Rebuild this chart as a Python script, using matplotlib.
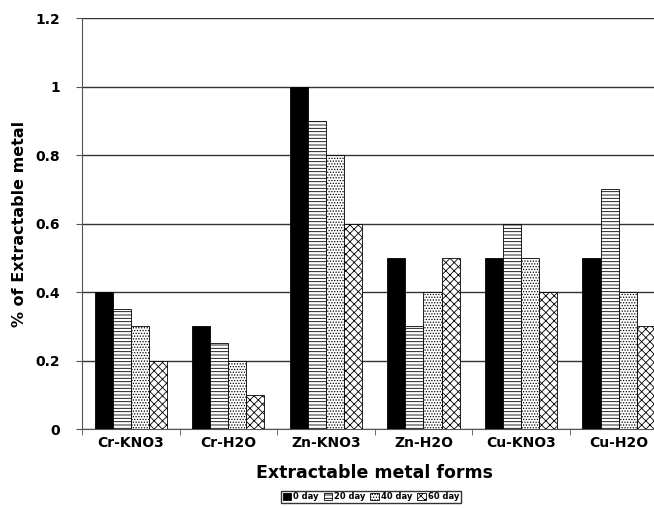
import numpy as np
import matplotlib
matplotlib.use("Agg")
import matplotlib.pyplot as plt

categories = ["Cr-KNO3", "Cr-H2O", "Zn-KNO3", "Zn-H2O", "Cu-KNO3", "Cu-H2O"]
series_names = ["0 day", "20 day", "40 day", "60 day"]
day0 = [0.4, 0.3, 1.0, 0.5, 0.5, 0.5]
day20 = [0.35, 0.25, 0.9, 0.3, 0.6, 0.7]
day40 = [0.3, 0.2, 0.8, 0.4, 0.5, 0.4]
day60 = [0.2, 0.1, 0.6, 0.5, 0.4, 0.3]
yticks = [0, 0.2, 0.4, 0.6, 0.8, 1, 1.2]

plt.rcParams["hatch.linewidth"] = 0.6

fig = plt.figure(figsize=(6.54, 5.08), dpi=100)
ax = fig.add_axes([0.1254, 0.1555, 0.895, 0.809])

x = np.arange(len(categories))
w = 0.185
styles = [
    dict(facecolor="black", hatch=None),
    dict(facecolor="white", hatch="-----"),
    dict(facecolor="white", hatch="......"),
    dict(facecolor="white", hatch="xxxx"),
]
for k, (vals, st) in enumerate(zip([day0, day20, day40, day60], styles)):
    ax.bar(x + (k - 1.5) * w, vals, w, facecolor=st["facecolor"], hatch=st["hatch"],
           edgecolor="black", linewidth=0.6, label=series_names[k], zorder=3)

ax.set_xlim(-0.5, len(categories) - 0.5)
ax.set_ylim(0, 1.2)
ax.set_yticks(yticks)
ax.set_yticklabels([f"{t:g}" for t in yticks], fontsize=10, fontweight="bold")
ax.yaxis.grid(True, color="#333333", linewidth=1.0, zorder=0)
ax.set_axisbelow(True)

ax.set_xticks(x)
ax.set_xticklabels(categories, fontsize=10, fontweight="bold")
ax.tick_params(axis="x", length=0, pad=5)
ax.set_xticks(np.arange(len(categories) + 1) - 0.5, minor=True)
ax.tick_params(axis="x", which="minor", length=4, color="#555555")
ax.tick_params(axis="y", length=4, color="#555555", pad=12)

for s in ["top", "right"]:
    ax.spines[s].set_visible(False)
ax.spines["left"].set_color("#555555")
ax.spines["bottom"].set_color("#555555")

ax.set_ylabel("% of Extractable metal", fontsize=11.5, fontweight="bold", labelpad=6)
ax.set_xlabel("Extractable metal forms", fontsize=12.5, fontweight="bold", labelpad=10)

fig.legend(loc="center", bbox_to_anchor=(0.567, 0.022), ncol=4,
           handlelength=1.0, handleheight=1.0, handletextpad=0.25, columnspacing=0.6,
           frameon=True, fancybox=False, edgecolor="black", borderpad=0.2,
           prop={"weight": "bold", "size": 6})

fig.savefig("out.png", dpi=100)
